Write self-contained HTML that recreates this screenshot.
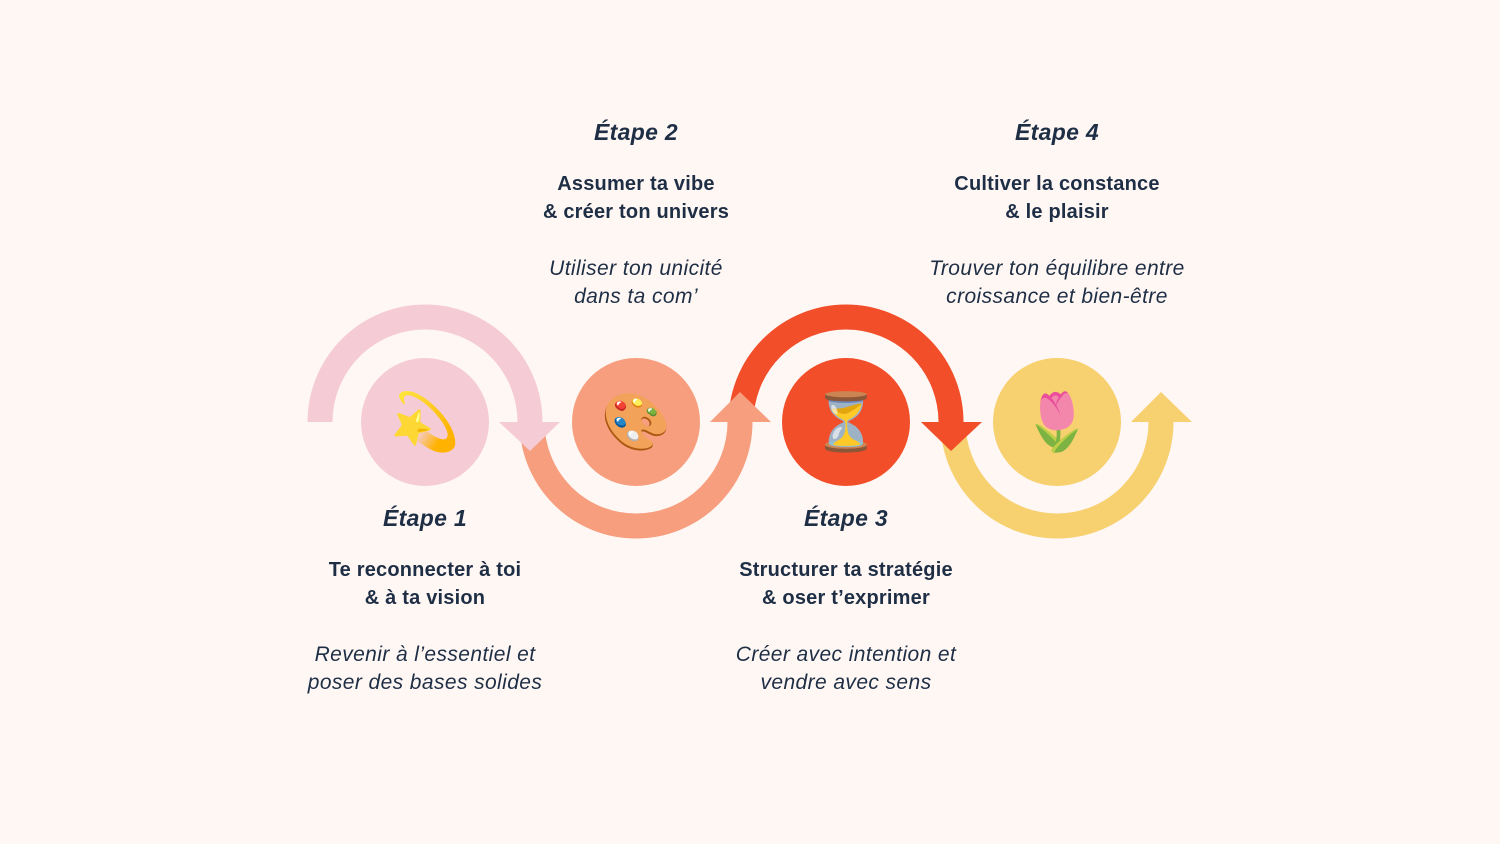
<!DOCTYPE html>
<html><head><meta charset="utf-8"><style>
body{margin:0;width:1500px;height:844px;background:#FFF7F4;position:relative;overflow:hidden;font-family:"Liberation Sans",sans-serif;color:#1E2E45}
.t{position:absolute;width:360px;text-align:center}
.h{font-weight:bold;font-style:italic;font-size:23px;letter-spacing:0.3px}
.b{font-weight:bold;font-size:20px;line-height:28px;letter-spacing:0.2px}
.i{font-style:italic;font-size:21px;line-height:28px;letter-spacing:0.4px}
.e{position:absolute;width:128px;height:128px;text-align:center;line-height:128px;font-size:56px}
</style></head><body>
<svg width="1500" height="844" style="position:absolute;left:0;top:0">
<circle cx="425" cy="422" r="64" fill="#F5CCD6"/>
<circle cx="636" cy="422" r="64" fill="#F79E7E"/>
<circle cx="846" cy="422" r="64" fill="#F24E29"/>
<circle cx="1057" cy="422" r="64" fill="#F7D070"/>
<path d="M953 422 A104 104 0 0 0 1161 422" fill="none" stroke="#F7D070" stroke-width="25"/>
<polygon points="1131,422 1192,422 1161,392" fill="#F7D070"/>
<path d="M741 422 A105 105 0 0 1 951 422" fill="none" stroke="#F24E29" stroke-width="25"/>
<polygon points="921,422 982,422 951,451" fill="#F24E29"/>
<path d="M532 422 A104 104 0 0 0 740 422" fill="none" stroke="#F79E7E" stroke-width="25"/>
<polygon points="710,422 771,422 740,392" fill="#F79E7E"/>
<path d="M320 422 A105 105 0 0 1 530 422" fill="none" stroke="#F5CCD6" stroke-width="25"/>
<polygon points="499,422 560,422 530,451" fill="#F5CCD6"/>
</svg>
<div class="e" style="left:361px;top:358px">💫</div>
<div class="e" style="left:572px;top:358px">🎨</div>
<div class="e" style="left:782px;top:358px">⏳</div>
<div class="e" style="left:993px;top:358px">🌷</div>

<div class="t" style="left:456px;top:119px"><div class="h">Étape 2</div></div>
<div class="t" style="left:456px;top:170px"><div class="b">Assumer ta vibe<br>&amp; créer ton univers</div></div>
<div class="t" style="left:456px;top:255px"><div class="i">Utiliser ton unicité<br>dans ta com’</div></div>

<div class="t" style="left:877px;top:119px"><div class="h">Étape 4</div></div>
<div class="t" style="left:877px;top:170px"><div class="b">Cultiver la constance<br>&amp; le plaisir</div></div>
<div class="t" style="left:877px;top:255px"><div class="i">Trouver ton équilibre entre<br>croissance et bien-être</div></div>

<div class="t" style="left:245px;top:505px"><div class="h">Étape 1</div></div>
<div class="t" style="left:245px;top:556px"><div class="b">Te reconnecter à toi<br>&amp; à ta vision</div></div>
<div class="t" style="left:245px;top:641px"><div class="i">Revenir à l’essentiel et<br>poser des bases solides</div></div>

<div class="t" style="left:666px;top:505px"><div class="h">Étape 3</div></div>
<div class="t" style="left:666px;top:556px"><div class="b">Structurer ta stratégie<br>&amp; oser t’exprimer</div></div>
<div class="t" style="left:666px;top:641px"><div class="i">Créer avec intention et<br>vendre avec sens</div></div>
</body></html>
